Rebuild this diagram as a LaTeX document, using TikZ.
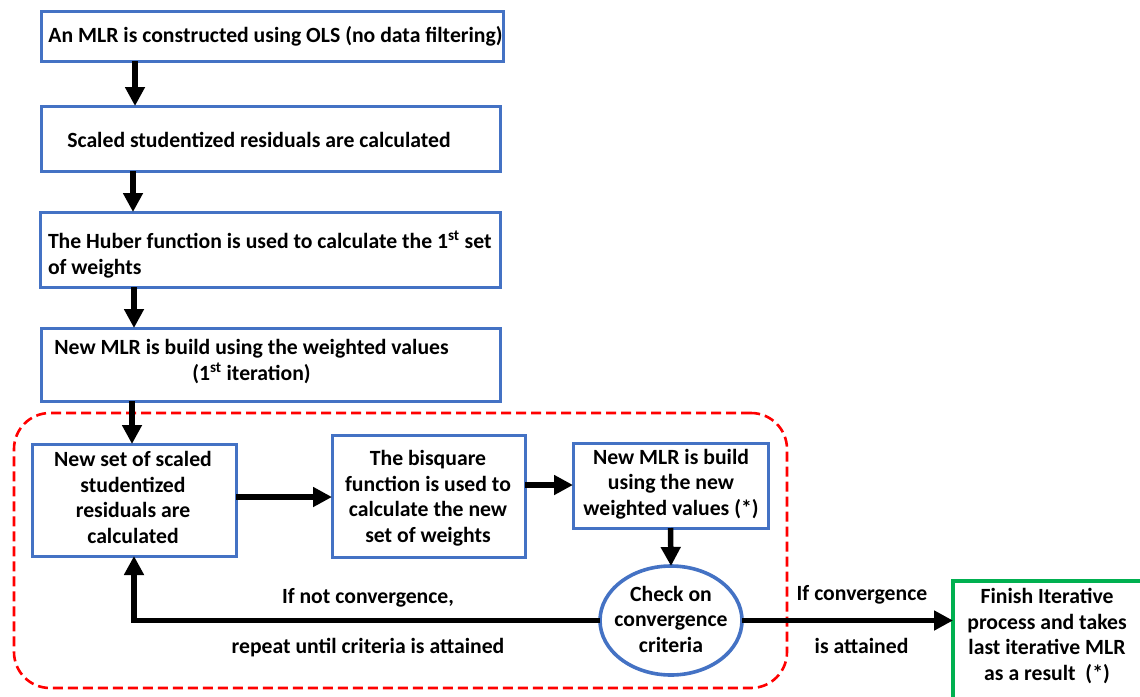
\documentclass[tikz,border=0pt]{standalone}
\usepackage{fontspec}
\setmainfont{Carlito}
\usetikzlibrary{arrows.meta,shapes.geometric,calc}
\definecolor{boxblue}{HTML}{4472C4}
\definecolor{boxgreen}{HTML}{00B050}
\definecolor{loopred}{HTML}{FF0000}
\begin{document}
\begin{tikzpicture}[x=1pt,y=-1pt,
  every node/.style={inner sep=0pt,outer sep=0pt},
  bluebox/.style args={#1/#2}{draw=boxblue,line width=3pt,rectangle,minimum width=#1pt,minimum height=#2pt},
  txt/.style={font=\fontsize{21.7}{25.5}\selectfont\bfseries,anchor=base,align=center},
  arr/.style={line width=5.5pt,-{Triangle[length=19pt,width=19pt]}}]
\useasboundingbox (0,0) rectangle (1140,696);
\clip (0,0) rectangle (1140,696);
\fill[white] (0,0) rectangle (1140,696);

% dashed loop frame
\node[draw=loopred,dashed,dash pattern=on 10pt off 5pt,line width=2.6pt,rounded corners=36pt,
      minimum width=773pt,minimum height=275pt] (frame) at (400.5,550.5) {};

% boxes
\node[bluebox=462/50] (b1) at (272.85,36) {};
\node[bluebox=459/65] (b2) at (271.35,138.5) {};
\node[bluebox=460/75] (b3) at (270,249.5) {};
\node[bluebox=459/73] (b4) at (270.5,364.5) {};
\node[bluebox=204/112] (b5) at (134,500) {};
\node[bluebox=193/122] (b6) at (428.5,496) {};
\node[bluebox=195/85] (b7) at (670.5,485.5) {};
\node[draw=boxblue,line width=3.6pt,ellipse,minimum width=142pt,minimum height=109pt] (e) at (671,620.5) {};
\node[draw=boxgreen,line width=3.4pt,rectangle,minimum width=192pt,minimum height=119pt] (g) at (1049,640.5) {};

% texts (base anchor = baseline of the last line)
\node[txt] (t1) at (275.5,42) {An MLR is constructed using OLS (no data filtering)};
\node[txt] (t2) at (259,147) {Scaled studentized residuals are calculated};
\node[txt,anchor=base west,align=left] (t3) at (48,274) {The Huber function is used to calculate the 1\textsuperscript{st} set\\of weights};
\node[txt] (t4) at (251.5,380) {New MLR is build using the weighted values\\(1\textsuperscript{st} iteration)};
\node[txt] (t5) at (133,543) {New set of scaled\\studentized\\residuals are\\calculated};
\node[txt] (t6) at (428,542) {The bisquare\\function is used to\\calculate the new\\set of weights};
\node[txt] (t7) at (671,515) {New MLR is build\\using the new\\weighted values (*)};
\node[txt] (te) at (671,652) {Check on\\convergence\\criteria};
\node[txt] (tg) at (1047,680) {Finish Iterative\\process and takes\\last iterative MLR\\as a result~ (*)};
\node[txt] (l1) at (368,603) {If not convergence,};
\node[txt] (l2) at (368,653) {repeat until criteria is attained};
\node[txt] (l3) at (862,600) {If convergence};
\node[txt] (l4) at (861.5,653) {is attained};

% connectors
\draw[arr] (135,0 |- b1.south) -- (135,0 |- b2.north);
\draw[arr] (133,0 |- b2.south) -- (133,0 |- b3.north);
\draw[arr] (134,0 |- b3.south) -- (134,0 |- b4.north);
\draw[arr] (132,0 |- b4.south) -- (132,0 |- b5.north);
\draw[arr] (b5.east |- 0,497) -- (b6.west |- 0,497);
\draw[arr] (b6.east |- 0,485) -- (b7.west |- 0,485);
\draw[arr] (b7.south) -- (e.north);
\draw[arr] (e.west) -| (b5.south);
\draw[arr] (e.east) -- (e.east -| g.west);
\end{tikzpicture}
\end{document}
